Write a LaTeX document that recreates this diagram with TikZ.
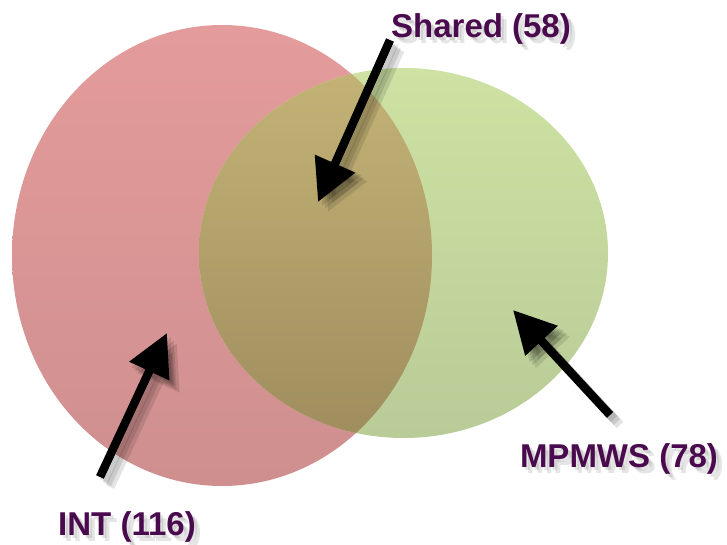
\documentclass[tikz,border=0pt]{standalone}
\usepackage{fontspec}
\setmainfont{Liberation Sans}
\usetikzlibrary{arrows.meta}
\definecolor{redtop}{HTML}{E49B9B}
\definecolor{redbot}{HTML}{CF8F8F}
\definecolor{grntop}{HTML}{CEE2A3}
\definecolor{grnbot}{HTML}{B9CB97}
\definecolor{olvtop}{HTML}{C3B376}
\definecolor{olvbot}{HTML}{9F8D5E}
\definecolor{labelc}{HTML}{4A0A4E}
\begin{document}
\begin{tikzpicture}[x=1pt,y=-1pt,
  lbl/.style={font=\bfseries\fontsize{33}{33}\selectfont, text=labelc, inner sep=0pt, anchor=base},
  lblshadow/.style={font=\bfseries\fontsize{33}{33}\selectfont, text=black, opacity=0.10, inner sep=0pt, anchor=base},
  pointer/.style={line width=8.5pt, black, -{Triangle[length=42pt,width=42pt]}},
  pointershadow/.style={line width=9pt, black, opacity=0.11, -{Triangle[length=44pt,width=44pt]}},
]
\useasboundingbox (0,0) rectangle (727,545);
% ellipses
\shade[top color=redtop, bottom color=redbot] (222,255.5) ellipse [x radius=210, y radius=230.5];
\shade[top color=grntop, bottom color=grnbot] (403.5,253) ellipse [x radius=204.5, y radius=185];
\begin{scope}
  \clip (222,255.5) ellipse [x radius=210, y radius=230.5];
  \shade[top color=olvtop, bottom color=olvbot] (403.5,253) ellipse [x radius=204.5, y radius=185];
\end{scope}
% anchor points
\coordinate (tailS) at (390,40);
\coordinate (tipS) at (318,202);
\coordinate (tailI) at (100,477);
\coordinate (tipI) at (167,333);
\coordinate (tailM) at (610,415);
\coordinate (tipM) at (513,310);
% arrow shadows
\foreach \d in {4,7,10}{
  \draw[pointershadow] ([xshift=\d pt,yshift=-\d pt]tailS) -- ([xshift=\d pt,yshift=-\d pt]tipS);
  \draw[pointershadow] ([xshift=\d pt,yshift=-\d pt]tailI) -- ([xshift=\d pt,yshift=-\d pt]tipI);
  \draw[pointershadow] ([xshift=\d pt,yshift=-\d pt]tailM) -- ([xshift=\d pt,yshift=-\d pt]tipM);
}
% label shadows
\foreach \d in {3,6}{
  \node[lblshadow] (shS\d) at (481+\d,38+\d) {Shared (58)};
  \node[lblshadow] (shI\d) at (127+\d,535+\d) {INT (116)};
  \node[lblshadow] (shM\d) at (619+\d,467+\d) {MPMWS (78)};
}
% labels
\node[lbl] (shared) at (481,38) {Shared (58)};
\node[lbl] (int) at (127,535) {INT (116)};
\node[lbl] (mpmws) at (619,467) {MPMWS (78)};
% arrows
\draw[pointer] (tailS) -- (tipS);
\draw[pointer] (tailI) -- (tipI);
\draw[pointer] (tailM) -- (tipM);
\end{tikzpicture}
\end{document}
